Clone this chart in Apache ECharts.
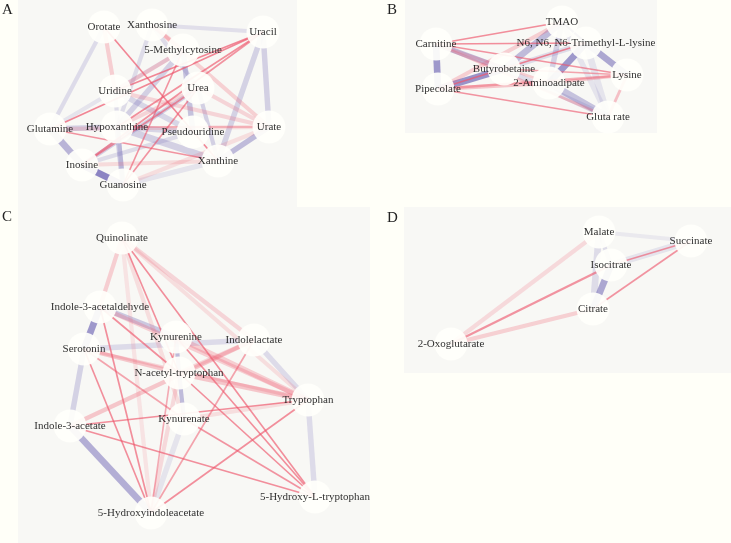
<!DOCTYPE html>
<html>
<head>
<meta charset="utf-8">
<script src="https://cdn.jsdelivr.net/npm/echarts@6/dist/echarts.min.js"></script>
<style>
  html, body { margin: 0; padding: 0; background: #fffff8; }
  #chart { width: 731px; height: 543px; }
</style>
</head>
<body>
<div id="chart"></div>
<script>
// node layout: [name, x, y] inside each panel
const nodesA = [
  ['Orotate', 86, 27], ['Xanthosine', 134, 25], ['Uracil', 245, 32],
  ['5-Methylcytosine', 165, 50], ['Uridine', 97, 91], ['Urea', 180, 88],
  ['Glutamine', 32, 129], ['Hypoxanthine', 99, 127], ['Pseudouridine', 175, 132],
  ['Urate', 251, 127], ['Inosine', 64, 165], ['Xanthine', 200, 161], ['Guanosine', 105, 185]
];
// edges: [source, target, correlation, weight]
const edgesA = [
  ['Orotate', 'Glutamine', -0.22, 3], ['Xanthosine', 'Uracil', -0.18, 3],
  ['Uracil', 'Urate', -0.3, 4], ['Uracil', 'Xanthine', -0.28, 4],
  ['Urate', 'Xanthine', -0.45, 4], ['Glutamine', 'Inosine', -0.5, 5],
  ['Inosine', 'Guanosine', -0.85, 5], ['Glutamine', 'Hypoxanthine', -0.3, 4],
  ['Hypoxanthine', 'Guanosine', -0.35, 4], ['Hypoxanthine', 'Xanthine', -0.3, 5],
  ['Hypoxanthine', 'Pseudouridine', -0.25, 4], ['5-Methylcytosine', 'Pseudouridine', -0.4, 4],
  ['5-Methylcytosine', 'Hypoxanthine', -0.3, 4], ['Uridine', 'Pseudouridine', -0.25, 4],
  ['Xanthosine', 'Hypoxanthine', -0.2, 3], ['Inosine', 'Urea', -0.3, 3],
  ['Inosine', 'Pseudouridine', -0.2, 3], ['Guanosine', 'Xanthine', -0.15, 4],
  ['Xanthosine', 'Urea', -0.2, 3], ['Urea', 'Xanthine', -0.3, 3],
  ['Uridine', 'Guanosine', -0.2, 3], ['Glutamine', '5-Methylcytosine', -0.15, 3],
  ['Orotate', 'Uridine', 0.3, 3], ['Xanthosine', 'Urate', 0.28, 3],
  ['Xanthosine', '5-Methylcytosine', 0.3, 3], ['Uridine', 'Urate', 0.25, 3],
  ['Glutamine', 'Urate', 0.2, 3], ['Uridine', '5-Methylcytosine', 0.3, 3],
  ['Urea', 'Urate', 0.25, 3], ['Hypoxanthine', 'Urea', 0.25, 3],
  ['Inosine', 'Xanthine', 0.2, 3], ['Guanosine', 'Urate', 0.18, 3],
  ['Orotate', 'Xanthine', 0.8, 1], ['Uracil', 'Uridine', 0.8, 1],
  ['Uracil', 'Glutamine', 0.8, 1], ['Uracil', 'Hypoxanthine', 0.75, 1],
  ['Uracil', 'Inosine', 0.7, 1], ['5-Methylcytosine', 'Guanosine', 0.7, 1],
  ['Urea', 'Inosine', 0.7, 1], ['Urea', 'Guanosine', 0.7, 1],
  ['Glutamine', 'Xanthine', 0.7, 1], ['Hypoxanthine', 'Urate', 0.5, 1]
];

const nodesB = [
  ['Carnitine', 31, 44], ['TMAO', 157, 22], ['N6, N6, N6-Trimethyl-L-lysine', 181, 43],
  ['Butyrobetaine', 99, 69], ['Lysine', 222, 75], ['Pipecolate', 33, 89],
  ['2-Aminoadipate', 144, 83], ['Gluta rate', 203, 117]
];
const edgesB = [
  ['Carnitine', 'Pipecolate', -0.7, 5], ['Carnitine', 'Butyrobetaine', -0.45, 4],
  ['Pipecolate', 'Butyrobetaine', -0.75, 5], ['Butyrobetaine', 'TMAO', -0.45, 5],
  ['TMAO', '2-Aminoadipate', -0.3, 4], ['TMAO', 'N6, N6, N6-Trimethyl-L-lysine', -0.8, 1.5],
  ['N6, N6, N6-Trimethyl-L-lysine', '2-Aminoadipate', -0.7, 5],
  ['N6, N6, N6-Trimethyl-L-lysine', 'Lysine', -0.6, 5],
  ['N6, N6, N6-Trimethyl-L-lysine', 'Gluta rate', -0.15, 5], ['TMAO', 'Gluta rate', -0.15, 4],
  ['2-Aminoadipate', 'Gluta rate', -0.4, 5], ['Butyrobetaine', 'Gluta rate', -0.2, 4],
  ['Butyrobetaine', 'N6, N6, N6-Trimethyl-L-lysine', -0.2, 4],
  ['Carnitine', 'Gluta rate', 0.35, 2], ['Carnitine', '2-Aminoadipate', 0.3, 2],
  ['Pipecolate', 'TMAO', 0.3, 3], ['Pipecolate', '2-Aminoadipate', 0.35, 3],
  ['Lysine', 'Gluta rate', 0.4, 2], ['2-Aminoadipate', 'Lysine', 0.35, 2],
  ['Carnitine', 'TMAO', 0.75, 1], ['Carnitine', 'N6, N6, N6-Trimethyl-L-lysine', 0.75, 1],
  ['Carnitine', 'Lysine', 0.7, 1], ['Pipecolate', 'N6, N6, N6-Trimethyl-L-lysine', 0.8, 1],
  ['Pipecolate', 'Lysine', 0.5, 1.5], ['Pipecolate', 'Gluta rate', 0.7, 1],
  ['Butyrobetaine', 'Lysine', 0.6, 1]
];

const nodesC = [
  ['Quinolinate', 104, 31], ['Indole-3-acetaldehyde', 82, 100], ['Kynurenine', 158, 130],
  ['Indolelactate', 236, 133], ['Serotonin', 66, 142], ['N-acetyl-tryptophan', 161, 166],
  ['Tryptophan', 290, 193], ['Indole-3-acetate', 52, 219], ['Kynurenate', 166, 212],
  ['5-Hydroxyindoleacetate', 133, 306], ['5-Hydroxy-L-tryptophan', 297, 290]
];
const edgesC = [
  ['Indole-3-acetaldehyde', 'Serotonin', -0.7, 5], ['Indole-3-acetaldehyde', 'Kynurenine', -0.35, 4],
  ['Serotonin', 'Indolelactate', -0.22, 4], ['Serotonin', 'Indole-3-acetate', -0.28, 4],
  ['Indole-3-acetate', '5-Hydroxyindoleacetate', -0.55, 5], ['Kynurenine', 'N-acetyl-tryptophan', -0.45, 3],
  ['N-acetyl-tryptophan', 'Kynurenate', -0.45, 3], ['Indolelactate', 'Tryptophan', -0.22, 4],
  ['Tryptophan', '5-Hydroxy-L-tryptophan', -0.22, 4], ['Kynurenate', '5-Hydroxyindoleacetate', -0.15, 4],
  ['Quinolinate', 'Indole-3-acetaldehyde', 0.3, 3], ['Quinolinate', 'Indolelactate', 0.25, 3],
  ['Quinolinate', 'Tryptophan', 0.18, 3], ['Quinolinate', '5-Hydroxyindoleacetate', 0.15, 3],
  ['Quinolinate', 'Kynurenate', 0.18, 3], ['Indole-3-acetaldehyde', 'Tryptophan', 0.3, 3],
  ['Kynurenine', 'Tryptophan', 0.3, 4], ['N-acetyl-tryptophan', 'Tryptophan', 0.35, 4],
  ['Indole-3-acetate', 'Indolelactate', 0.35, 3], ['Serotonin', 'N-acetyl-tryptophan', 0.35, 3],
  ['Serotonin', 'Tryptophan', 0.25, 2], ['N-acetyl-tryptophan', '5-Hydroxyindoleacetate', 0.22, 3],
  ['Indolelactate', 'N-acetyl-tryptophan', 0.25, 3], ['Tryptophan', 'Kynurenate', 0.18, 3],
  ['Quinolinate', 'N-acetyl-tryptophan', 0.75, 1], ['Quinolinate', '5-Hydroxy-L-tryptophan', 0.75, 1],
  ['Indole-3-acetaldehyde', 'N-acetyl-tryptophan', 0.75, 1],
  ['Indole-3-acetaldehyde', '5-Hydroxyindoleacetate', 0.75, 1],
  ['Serotonin', '5-Hydroxyindoleacetate', 0.75, 1], ['Serotonin', 'Kynurenate', 0.6, 1],
  ['Kynurenine', '5-Hydroxy-L-tryptophan', 0.75, 1], ['Indolelactate', '5-Hydroxyindoleacetate', 0.6, 1],
  ['N-acetyl-tryptophan', '5-Hydroxy-L-tryptophan', 0.75, 1], ['Tryptophan', 'Indole-3-acetate', 0.75, 1],
  ['Tryptophan', '5-Hydroxyindoleacetate', 0.75, 1], ['Indole-3-acetate', '5-Hydroxy-L-tryptophan', 0.75, 1],
  ['Kynurenate', '5-Hydroxy-L-tryptophan', 0.7, 1], ['Kynurenine', '5-Hydroxyindoleacetate', 0.55, 1]
];

const nodesD = [
  ['Malate', 195, 25], ['Succinate', 287, 34], ['Isocitrate', 207, 58],
  ['Citrate', 189, 102], ['2-Oxoglutarate', 47, 137]
];
const edgesD = [
  ['Malate', 'Succinate', -0.1, 3], ['Malate', 'Citrate', -0.2, 5],
  ['Malate', 'Isocitrate', -0.2, 3], ['Isocitrate', 'Succinate', -0.15, 5],
  ['Isocitrate', 'Citrate', -0.6, 5], ['Malate', '2-Oxoglutarate', 0.22, 3],
  ['2-Oxoglutarate', 'Citrate', 0.28, 3], ['Succinate', 'Citrate', 0.7, 1],
  ['Isocitrate', 'Succinate', 0.7, 1], ['2-Oxoglutarate', 'Isocitrate', 0.7, 1.5]
];

const panelLabels = ['A', 'B', 'C', 'D'];

// panel frames (pixels)
const panels = [
  { left: 18, top: 0, width: 279, height: 207, nodes: nodesA, edges: edgesA, lx: 2, ly: 3 },
  { left: 405, top: 0, width: 252, height: 133, nodes: nodesB, edges: edgesB, lx: 387, ly: 3 },
  { left: 18, top: 207, width: 352, height: 336, nodes: nodesC, edges: edgesC, lx: 2, ly: 210 },
  { left: 404, top: 207, width: 327, height: 166, nodes: nodesD, edges: edgesD, lx: 387, ly: 211 }
];

const edgeColor = r => r > 0
  ? 'rgba(238,86,108,' + (Math.abs(r) * 0.88).toFixed(2) + ')'
  : 'rgba(104,94,178,' + (Math.abs(r) * 0.88).toFixed(2) + ')';

const font = "'Liberation Serif', 'DejaVu Serif', serif";

const chart = echarts.init(document.getElementById('chart'));
chart.setOption({
  backgroundColor: '#fffff8',
  animation: false,
  title: panels.map((p, i) => ({
    text: panelLabels[i], left: p.lx, top: p.ly, padding: 0,
    textStyle: { fontFamily: font, fontSize: 15, fontWeight: 'normal', color: '#222' }
  })),
  grid: panels.map(p => ({
    left: p.left, top: p.top, width: p.width, height: p.height,
    show: true, backgroundColor: '#f8f8f5', borderWidth: 0
  })),
  xAxis: panels.map((p, i) => ({ type: 'value', gridIndex: i, min: 0, max: p.width, show: false })),
  yAxis: panels.map((p, i) => ({ type: 'value', gridIndex: i, min: 0, max: p.height, inverse: true, show: false })),
  series: panels.map((p, i) => ({
    type: 'graph',
    coordinateSystem: 'cartesian2d',
    xAxisIndex: i,
    yAxisIndex: i,
    symbolSize: 33,
    silent: true,
    itemStyle: { color: '#fffffb', opacity: 0.93 },
    label: {
      show: true, position: 'inside', color: '#222',
      fontFamily: font, fontSize: 11
    },
    data: p.nodes.map(n => ({ name: n[0], value: [n[1], n[2]] })),
    links: p.edges.map(e => ({
      source: e[0], target: e[1],
      lineStyle: { color: edgeColor(e[2]), width: 0.4 + e[3] * 1.25, opacity: 1, curveness: 0 }
    }))
  }))
});
</script>
</body>
</html>
